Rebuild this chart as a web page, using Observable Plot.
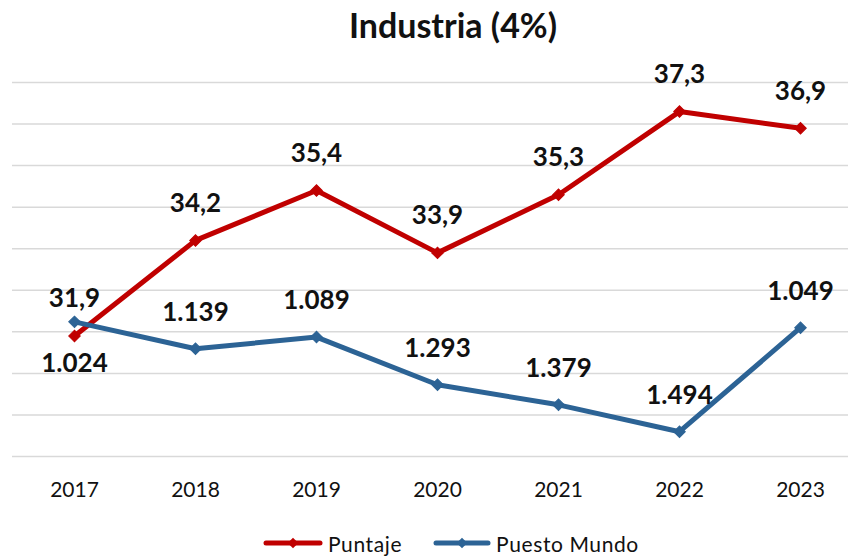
<!DOCTYPE html>
<html>
<head>
<meta charset="utf-8">
<script src="https://cdn.jsdelivr.net/npm/d3@7"></script>
<script src="https://cdn.jsdelivr.net/npm/@observablehq/plot@0.6"></script>
<style>
  body { margin: 0; background: #fff; overflow: hidden; }
  #wrap { position: relative; width: 848px; height: 558px; font-family: Lato, "Open Sans", sans-serif; }
  #title { position: absolute; left: 0; top: 0; width: 906px; height: 50px; line-height: 50px;
           text-align: center; font-weight: bold; font-size: 34px; color: #111; }
  .layer { position: absolute; left: 0; top: 50px; }
  #legend { position: absolute; left: 263px; top: 530px; height: 26px; display: flex; align-items: center;
            font-size: 21px; letter-spacing: 0.6px; color: #111; }
  #legend .item { display: flex; align-items: center; }
  #legend svg { display: block; }
</style>
</head>
<body>
<div id="wrap">
  <div id="title">Industria (4%)</div>
  <div class="layer" id="chartA"></div>
  <div class="layer" id="chartB"></div>
  <div id="legend"></div>
</div>
<script>
const years = ["2017", "2018", "2019", "2020", "2021", "2022", "2023"];
const puntaje = [31.9, 34.2, 35.4, 33.9, 35.3, 37.3, 36.9];
const puestoMundo = [1024, 1139, 1089, 1293, 1379, 1494, 1049];
const gridTicks = [29, 30, 31, 32, 33, 34, 35, 36, 37, 38];
const puntajeDomain = [29, 38];
const puestoDomain = [0, 1600];
const seriesNames = ["Puntaje", "Puesto Mundo"];
const colors = ["#C00000", "#2C6395"];

const loc = d3.formatLocale({decimal: ",", thousands: ".", grouping: [3], currency: ["", "€"]});
const fmt1 = loc.format(".1f");
const fmtInt = loc.format(",d");

const red = years.map((y, i) => ({year: y, value: puntaje[i]}));
const blue = years.map((y, i) => ({year: y, value: puestoMundo[i]}));

const W = 848, H = 460;
const common = {
  width: W, height: H,
  marginLeft: 12, marginRight: 0, marginTop: 32, marginBottom: 54,
  x: {type: "point", domain: years, range: [12, 861], padding: 0.5},
  style: {fontFamily: "Lato, 'Open Sans', sans-serif", background: "transparent", overflow: "visible"}
};

const chartA = Plot.plot({
  ...common,
  y: {domain: puntajeDomain, axis: null},
  marks: [
    Plot.ruleY(gridTicks, {stroke: "#d9d9d9", strokeWidth: 1.5}),
    Plot.axisX({tickSize: 0, tickPadding: 26, fontSize: 21, fill: "#111", label: null}),
    Plot.line(red, {x: "year", y: "value", stroke: colors[0], strokeWidth: 5, strokeLinejoin: "round"}),
    Plot.dot(red, {x: "year", y: "value", symbol: "square", rotate: 45, r: 4.6, fill: colors[0], stroke: colors[0], strokeWidth: 1}),
    Plot.text(red, {x: "year", y: "value", text: d => fmt1(d.value), dy: -37, fontSize: 26, fontWeight: "bold", fill: "#111"})
  ]
});
document.getElementById("chartA").appendChild(chartA);

const chartB = Plot.plot({
  ...common,
  x: {...common.x, axis: null},
  y: {domain: puestoDomain, reverse: true, axis: null},
  marks: [
    Plot.line(blue, {x: "year", y: "value", stroke: colors[1], strokeWidth: 5, strokeLinejoin: "round"}),
    Plot.dot(blue, {x: "year", y: "value", symbol: "square", rotate: 45, r: 4.6, fill: colors[1], stroke: colors[1], strokeWidth: 1}),
    Plot.text(blue.filter(d => d.year === years[0]), {x: "year", y: "value", text: d => fmtInt(d.value), dy: 42, fontSize: 26, fontWeight: "bold", fill: "#111"}),
    Plot.text(blue.filter(d => d.year !== years[0]), {x: "year", y: "value", text: d => fmtInt(d.value), dy: -36, fontSize: 26, fontWeight: "bold", fill: "#111"})
  ]
});
document.getElementById("chartB").appendChild(chartB);

// Legend
const legend = document.getElementById("legend");
const sw = [60, 58];
const gaps = [31, 0];
seriesNames.forEach((name, i) => {
  const item = document.createElement("div");
  item.className = "item";
  item.style.marginRight = gaps[i] + "px";
  const ns = "http://www.w3.org/2000/svg";
  const s = document.createElementNS(ns, "svg");
  s.setAttribute("width", sw[i]); s.setAttribute("height", 16);
  const ln = document.createElementNS(ns, "line");
  ln.setAttribute("x1", 3); ln.setAttribute("x2", sw[i] - 3);
  ln.setAttribute("y1", 8); ln.setAttribute("y2", 8);
  ln.setAttribute("stroke", colors[i]); ln.setAttribute("stroke-width", 5); ln.setAttribute("stroke-linecap", "round");
  s.appendChild(ln);
  const dm = document.createElementNS(ns, "rect");
  dm.setAttribute("x", sw[i] / 2 - 3.8); dm.setAttribute("y", 4.2); dm.setAttribute("width", 7.6); dm.setAttribute("height", 7.6);
  dm.setAttribute("fill", colors[i]);
  dm.setAttribute("transform", `rotate(45 ${sw[i] / 2} 8)`);
  s.appendChild(dm);
  const t = document.createElement("span");
  t.textContent = name;
  t.style.marginLeft = "5px";
  item.appendChild(s); item.appendChild(t);
  legend.appendChild(item);
});
</script>
</body>
</html>
